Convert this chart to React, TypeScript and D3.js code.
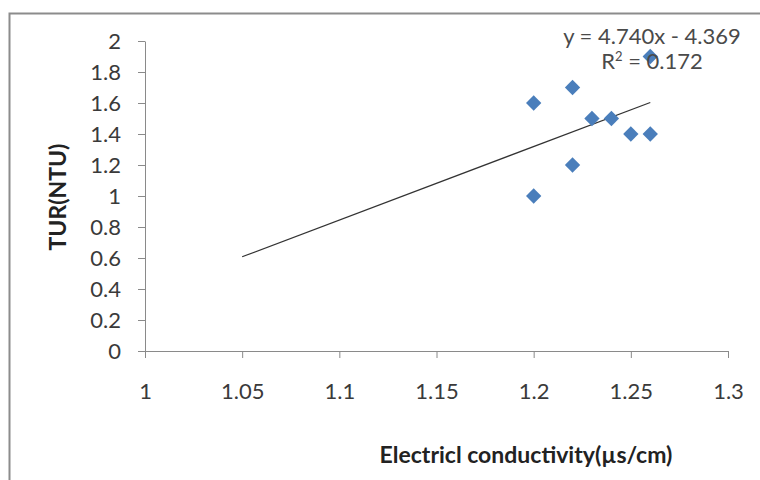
import React, { useEffect, useRef } from 'react';
import * as d3 from 'd3';

// conductivity vs turbidity samples
const conductivity = [1.2, 1.2, 1.22, 1.22, 1.23, 1.24, 1.25, 1.26, 1.26];
const turbidity = [1.6, 1.0, 1.7, 1.2, 1.5, 1.5, 1.4, 1.4, 1.9];
const xTicks = [1, 1.05, 1.1, 1.15, 1.2, 1.25, 1.3];
const yTicks = [0, 0.2, 0.4, 0.6, 0.8, 1, 1.2, 1.4, 1.6, 1.8, 2];
const slope = 4.74;
const intercept = -4.369;
const trendRange = [1.05, 1.26];
const eqLabel = 'y = 4.740x - 4.369';
const r2Label = '0.172';

const W = 760;
const H = 480;
const font = 'Lato, "Open Sans", sans-serif';

function App() {
  const ref = useRef<SVGSVGElement>(null);

  useEffect(() => {
    const svg = d3.select(ref.current);
    svg.selectAll('*').remove();

    const x = d3.scaleLinear().domain([1, 1.3]).range([145, 728]);
    const y = d3.scaleLinear().domain([0, 2]).range([351, 41]);

    // outer frame (only top/left visible)
    svg.append('path')
      .attr('d', `M9.5,${H} L9.5,13.5 L${W},13.5`)
      .attr('fill', 'none')
      .attr('stroke', '#8c8c8c')
      .attr('stroke-width', 2);

    const xAxis = svg.append('g')
      .attr('transform', `translate(0,${y(0)})`)
      .call(d3.axisBottom(x).tickValues(xTicks).tickSize(7).tickSizeOuter(0).tickPadding(25).tickFormat(d => String(d)));
    const yAxis = svg.append('g')
      .attr('transform', `translate(${x(1)},0)`)
      .call(d3.axisLeft(y).tickValues(yTicks).tickSize(7).tickSizeOuter(0).tickPadding(17).tickFormat(d => String(d)));

    [xAxis, yAxis].forEach(a => {
      a.select('.domain').attr('stroke', '#8a8a8a');
      a.selectAll('.tick line').attr('stroke', '#8a8a8a');
      a.selectAll('.tick text')
        .attr('fill', '#3a3a3a')
        .style('font-family', font)
        .style('font-size', '22px');
    });

    // trendline
    svg.append('line')
      .attr('x1', x(trendRange[0]))
      .attr('y1', y(slope * trendRange[0] + intercept))
      .attr('x2', x(trendRange[1]))
      .attr('y2', y(slope * trendRange[1] + intercept))
      .attr('stroke', '#333')
      .attr('stroke-width', 1.2);

    const pts = conductivity.map((c, i) => ({ c, t: turbidity[i] }));
    svg.append('g').selectAll('path').data(pts).enter()
      .append('path')
      .attr('d', d3.symbol(d3.symbolDiamond2, 150)())
      .attr('transform', d => `translate(${x(d.c)},${y(d.t)})`)
      .attr('fill', '#4a7ebb');

    // equation labels
    const lab = svg.append('g')
      .style('font-family', font)
      .style('font-size', '22px')
      .attr('fill', '#4a4a4a')
      .attr('text-anchor', 'middle');
    lab.append('text').attr('x', 652).attr('y', 44).text(eqLabel);
    const r = lab.append('text').attr('x', 652).attr('y', 69);
    r.append('tspan').text('R');
    r.append('tspan').attr('dy', -8).style('font-size', '13px').text('2');
    r.append('tspan').attr('dy', 8).text(' = ' + r2Label);

    svg.append('text')
      .attr('transform', 'translate(66,197) rotate(-90)')
      .attr('text-anchor', 'middle')
      .style('font-family', font)
      .style('font-size', '23px')
      .style('font-weight', 'bold')
      .attr('fill', '#222')
      .text('TUR(NTU)');

    svg.append('text')
      .attr('x', 526)
      .attr('y', 463)
      .attr('text-anchor', 'middle')
      .style('font-family', font)
      .style('font-size', '23px')
      .style('font-weight', 'bold')
      .attr('fill', '#222')
      .text('Electricl conductivity(µs/cm)');
  }, []);

  return (
    <svg ref={ref} width={W} height={H}
      style={{ position: 'absolute', left: 0, top: 0, background: '#fff' }} />
  );
}

export default App;
